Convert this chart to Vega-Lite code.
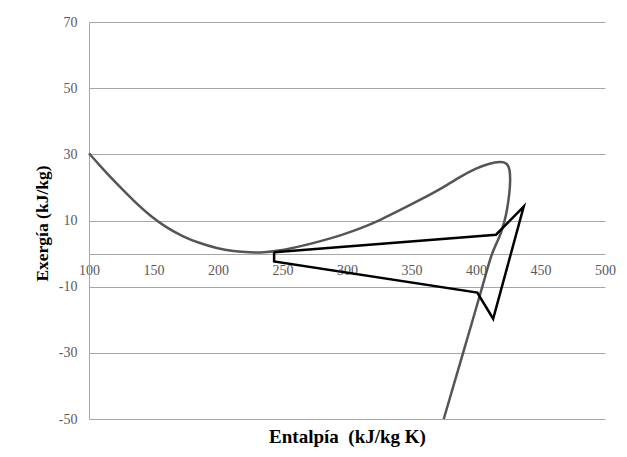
{
  "$schema": "https://vega.github.io/schema/vega-lite/v6.json",
  "width": 516,
  "height": 397,
  "autosize": "none",
  "padding": {"left": 89, "top": 22, "right": 22, "bottom": 38},
  "background": "white",
  "config": {"view": {"stroke": null}, "font": "Liberation Serif", "axis": {"labelFont": "Liberation Serif", "titleFont": "Liberation Serif"}},
  "datasets": {
    "curve": [
      {"o": 1, "h": 100, "e": 30.3},
      {"o": 2, "h": 110, "e": 25.9},
      {"o": 3, "h": 122.5, "e": 20.7},
      {"o": 4, "h": 135, "e": 15.8},
      {"o": 5, "h": 149, "e": 10.9},
      {"o": 6, "h": 160, "e": 7.9},
      {"o": 7, "h": 173, "e": 5.1},
      {"o": 8, "h": 186, "e": 3.1},
      {"o": 9, "h": 199, "e": 1.6},
      {"o": 10, "h": 212, "e": 0.7},
      {"o": 11, "h": 225, "e": 0.3},
      {"o": 12, "h": 235, "e": 0.3},
      {"o": 13, "h": 250, "e": 1.0},
      {"o": 14, "h": 265, "e": 2.3},
      {"o": 15, "h": 280, "e": 3.8},
      {"o": 16, "h": 296, "e": 5.6},
      {"o": 17, "h": 312, "e": 7.8},
      {"o": 18, "h": 326, "e": 10.2},
      {"o": 19, "h": 341, "e": 13.1},
      {"o": 20, "h": 358, "e": 16.5},
      {"o": 21, "h": 374.7, "e": 20.0},
      {"o": 22, "h": 387.6, "e": 23.2},
      {"o": 23, "h": 400, "e": 25.8},
      {"o": 24, "h": 410, "e": 27.2},
      {"o": 25, "h": 419, "e": 27.9},
      {"o": 26, "h": 424, "e": 27.4},
      {"o": 27, "h": 426.3, "e": 25.5},
      {"o": 28, "h": 426.6, "e": 22.0},
      {"o": 29, "h": 426, "e": 18.4},
      {"o": 30, "h": 424.3, "e": 13.6},
      {"o": 31, "h": 422.3, "e": 10.0},
      {"o": 32, "h": 419.5, "e": 6.3},
      {"o": 33, "h": 416, "e": 3.1},
      {"o": 34, "h": 412, "e": 0.0},
      {"o": 35, "h": 405, "e": -10.0},
      {"o": 36, "h": 397.5, "e": -20.0},
      {"o": 37, "h": 390, "e": -30.0},
      {"o": 38, "h": 382.5, "e": -40.0},
      {"o": 39, "h": 375, "e": -50.0}
    ],
    "cycle": [
      {"o": 1, "h": 243.5, "e": 0.4},
      {"o": 2, "h": 415.5, "e": 5.7},
      {"o": 3, "h": 437, "e": 14.2},
      {"o": 4, "h": 413.3, "e": -19.7},
      {"o": 5, "h": 401, "e": -11.8},
      {"o": 6, "h": 243.5, "e": -2.4},
      {"o": 7, "h": 243.5, "e": 0.4}
    ]
  },
  "encoding": {
    "x": {
      "field": "h",
      "type": "quantitative",
      "scale": {"domain": [100, 500], "nice": false, "zero": false},
      "axis": {
        "values": [100, 150, 200, 250, 300, 350, 400, 450, 500],
        "offset": -165,
        "grid": false,
        "ticks": false,
        "domainColor": "#a6a6a6",
        "domainWidth": 1,
        "labelPadding": 9,
        "labelFlush": false,
        "labelOverlap": false,
        "labelFontSize": 14,
        "labelColor": "#595959",
        "title": "Entalpía\u00a0\u00a0(kJ/kg K)",
        "titleFontSize": 19,
        "titleFontWeight": "bold",
        "titleColor": "#000000",
        "titleY": 182,
        "titleBaseline": "middle"
      }
    },
    "y": {
      "field": "e",
      "type": "quantitative",
      "scale": {"domain": [-50, 70], "nice": false, "zero": false},
      "axis": {
        "values": [-50, -30, -10, 10, 30, 50, 70],
        "labelExpr": "datum.value < 0 ? '-' + abs(datum.value) : '' + datum.value",
        "grid": true,
        "gridColor": "#a6a6a6",
        "gridWidth": 1,
        "ticks": false,
        "domainColor": "#a6a6a6",
        "domainWidth": 1,
        "labelPadding": 12,
        "labelFontSize": 14,
        "labelColor": "#595959",
        "title": "Exergía (kJ/kg)",
        "titleFontSize": 17.5,
        "titleFontWeight": "bold",
        "titleColor": "#000000",
        "titleAngle": -90,
        "titleX": -47,
        "titleY": 201,
        "titleAlign": "center",
        "titleBaseline": "middle"
      }
    },
    "order": {"field": "o", "type": "quantitative"}
  },
  "layer": [
    {
      "data": {"name": "curve"},
      "mark": {"type": "line", "color": "#555555", "strokeWidth": 2.5, "interpolate": "basis"}
    },
    {
      "data": {"name": "cycle"},
      "mark": {"type": "line", "color": "#000000", "strokeWidth": 2.5, "strokeJoin": "miter"}
    }
  ]
}
